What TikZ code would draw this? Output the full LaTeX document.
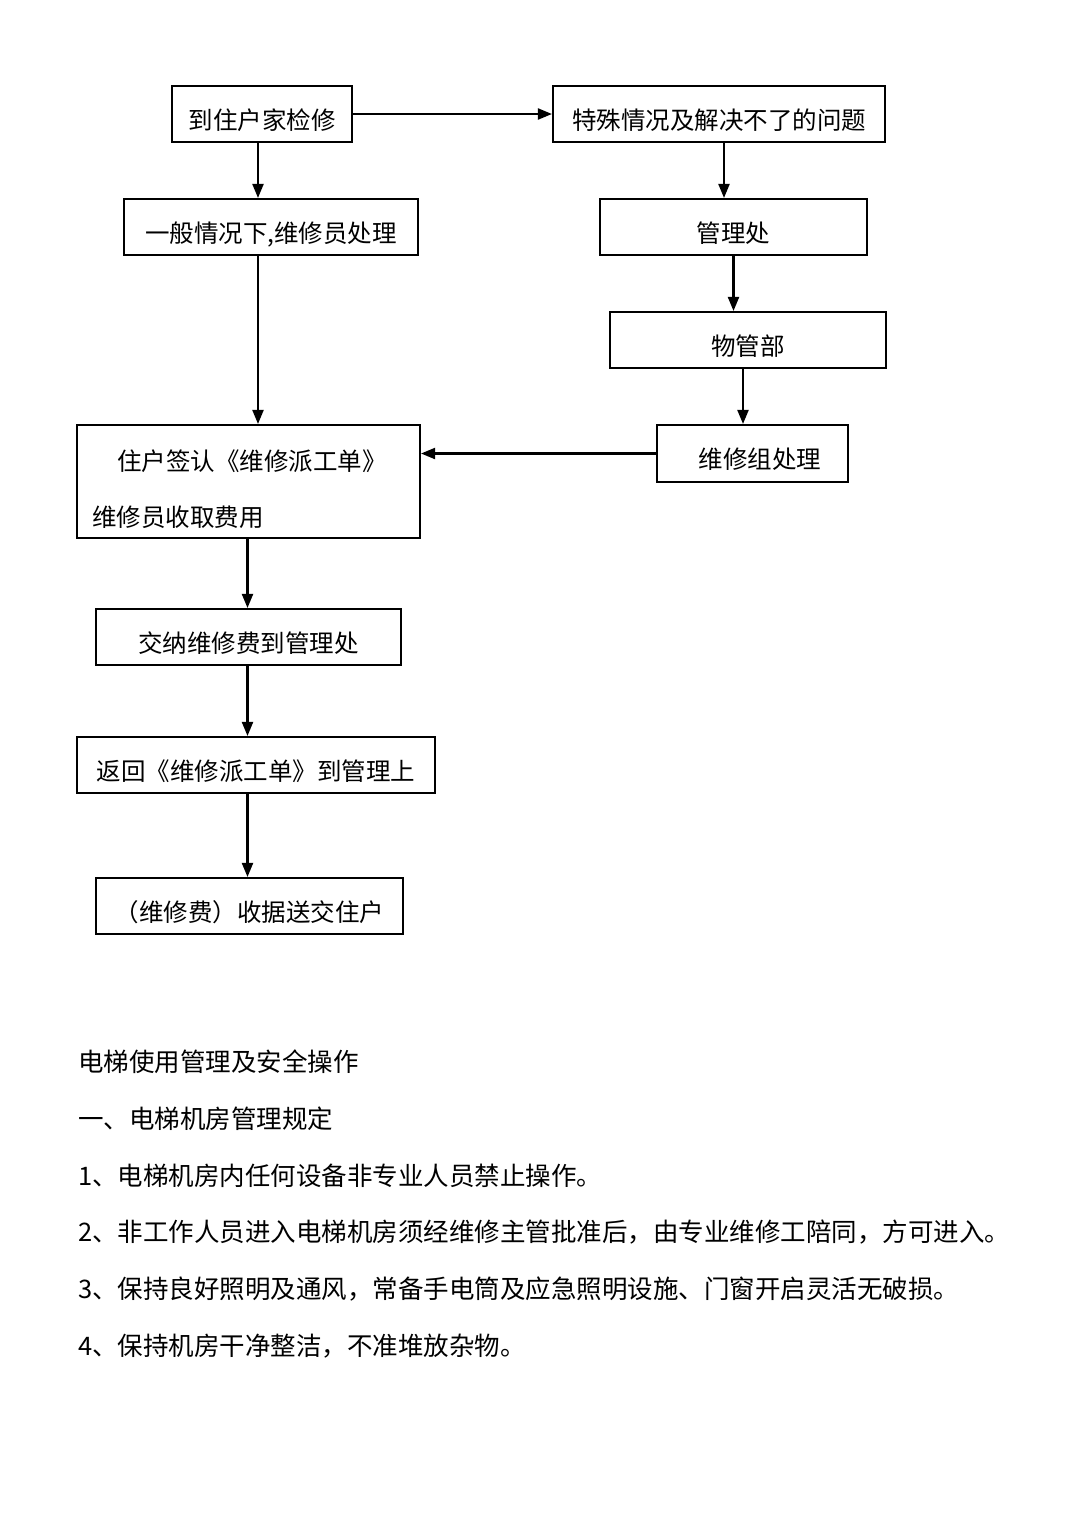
\documentclass[tikz,border=0pt]{standalone}
\usepackage{fontspec}
\setmainfont{Noto Sans CJK SC}
\usetikzlibrary{positioning,arrows.meta}
\tikzset{
  flowbox/.style={draw,line width=2.1pt,minimum height=56pt,inner sep=0pt,text height=30pt,text depth=0pt,font=\fontsize{24.5}{28}\selectfont},
  flowarr/.style={->,>={Triangle[length=14pt,width=11pt]},line width=2.1pt},
  para/.style={anchor=west,inner sep=0pt,font=\fontsize{25.5}{30}\selectfont}
}

\begin{document}
\begin{tikzpicture}[x=1pt,y=-1pt]
    \useasboundingbox[fill=white] (0,0) rectangle (1080,1527);
    % left column
    \node[flowbox,minimum width=180pt] (visit) at (262,114) {到住户家检修};
    \node[flowbox,minimum width=294pt] (normal) at (271,227) {一般情况下,维修员处理};
    \node[flowbox,minimum width=343pt,minimum height=113pt] (sign) at (248.5,481.5) {};
    \node[anchor=west,inner sep=0pt,font=\fontsize{24.5}{28}\selectfont] (signA) at (117,461) {住户签认《维修派工单》};
    \node[anchor=west,inner sep=0pt,font=\fontsize{24.5}{28}\selectfont] (signB) at (92,517) {维修员收取费用};
    \node[flowbox,minimum width=305pt] (pay) at (248.5,637) {交纳维修费到管理处};
    \node[flowbox,minimum width=358pt] (back) at (256,765) {返回《维修派工单》到管理上};
    \node[flowbox,minimum width=307pt] (receipt) at (249.5,906) {（维修费）收据送交住户};
    % right column
    \node[flowbox,minimum width=332pt] (special) at (719,114) {特殊情况及解决不了的问题};
    \node[flowbox,minimum width=267pt] (office) at (733.5,227) {管理处};
    \node[flowbox,minimum width=276pt] (dept) at (748,340) {物管部};
    \node[flowbox,minimum width=191pt,minimum height=57pt] (team) at (752.5,453.5) {\hspace*{15pt}维修组处理};

    \draw[flowarr] (visit.east) -- (special.west);
    \draw[flowarr] ([xshift=-4pt]visit.south) -- ([xshift=-4pt]visit.south |- normal.north);
    \draw[flowarr] ([xshift=-4pt]visit.south |- normal.south) -- ([xshift=-4pt]visit.south |- sign.north);
    \draw[flowarr] ([xshift=5pt]special.south) -- ([xshift=5pt]special.south |- office.north);
    \draw[flowarr] (office.south) -- (office.south |- dept.north);
    \draw[flowarr] ([xshift=-5pt]dept.south) -- ([xshift=-5pt]dept.south |- team.north);
    \draw[flowarr] (team.west) -- (team.west -| sign.east);
    \draw[flowarr] ([xshift=-1pt]sign.south) -- ([xshift=-1pt]sign.south |- pay.north);
    \draw[flowarr] ([xshift=-1pt]sign.south |- pay.south) -- ([xshift=-1pt]sign.south |- back.north);
    \draw[flowarr] ([xshift=-1pt]sign.south |- back.south) -- ([xshift=-1pt]sign.south |- receipt.north);

    % text below the chart
    \foreach \txt [count=\i] in {{电梯使用管理及安全操作},{一、电梯机房管理规定},
        {1、电梯机房内任何设备非专业人员禁止操作。},
        {2、非工作人员进入电梯机房须经维修主管批准后，由专业维修工陪同，方可进入。},
        {3、保持良好照明及通风，常备手电筒及应急照明设施、门窗开启灵活无破损。},
        {4、保持机房干净整洁，不准堆放杂物。}}
      \node[para] (line\i) at (78,{1062+56.8*(\i-1)}) {\txt};
\end{tikzpicture}
\end{document}
